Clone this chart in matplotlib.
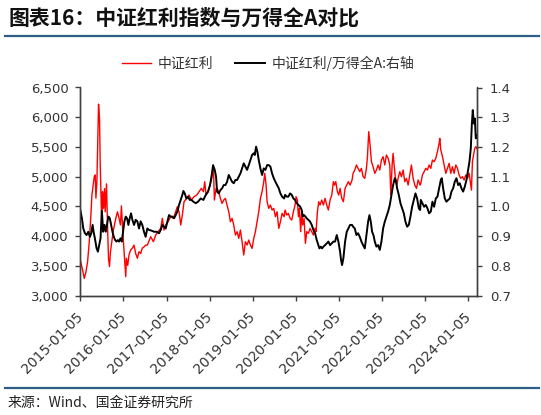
import matplotlib
matplotlib.use("Agg")
import matplotlib.pyplot as plt
from matplotlib.lines import Line2D
import numpy as np
import pandas as pd

plt.rcParams['font.family'] = ['Noto Sans CJK SC', 'DejaVu Sans']

# 中证红利 (left axis), decimal year -> index level
red_years = [
    2015.01, 2015.064, 2015.102, 2015.141, 2015.179, 2015.218, 2015.256, 2015.279, 2015.31, 2015.333,
    2015.356, 2015.372, 2015.395, 2015.418, 2015.433, 2015.456, 2015.472, 2015.495, 2015.51, 2015.525,
    2015.548, 2015.572, 2015.587, 2015.618, 2015.641, 2015.664, 2015.687, 2015.71, 2015.741, 2015.772,
    2015.802, 2015.833, 2015.872, 2015.91, 2015.941, 2015.964, 2015.995, 2016.025, 2016.064, 2016.079,
    2016.11, 2016.141, 2016.179, 2016.218, 2016.256, 2016.295, 2016.333, 2016.372, 2016.41, 2016.448,
    2016.487, 2016.525, 2016.564,
    2016.643, 2016.705, 2016.759, 2016.813, 2016.875, 2016.913, 2016.952, 2016.991, 2017.045, 2017.107,
    2017.169, 2017.223, 2017.261, 2017.3, 2017.339, 2017.377, 2017.416, 2017.478, 2017.532, 2017.586,
    2017.648, 2017.71, 2017.764, 2017.818, 2017.865, 2017.896, 2017.927, 2017.973, 2018.019, 2018.058,
    2018.081, 2018.097, 2018.12, 2018.159,
    2018.182, 2018.221, 2018.259, 2018.298, 2018.337, 2018.375, 2018.414, 2018.453, 2018.491, 2018.53,
    2018.569, 2018.607, 2018.646, 2018.685, 2018.723, 2018.762, 2018.801, 2018.839, 2018.878, 2018.917,
    2018.955, 2018.994, 2019.033, 2019.071, 2019.11, 2019.149, 2019.187, 2019.226, 2019.265, 2019.288,
    2019.319, 2019.342, 2019.381, 2019.419, 2019.458, 2019.497, 2019.535, 2019.574, 2019.613, 2019.651,
    2019.69, 2019.737,
    2019.759, 2019.798, 2019.836, 2019.875, 2019.914, 2019.952, 2019.991, 2020.014, 2020.045, 2020.068,
    2020.092, 2020.122, 2020.146, 2020.169, 2020.2, 2020.231, 2020.262, 2020.3, 2020.339, 2020.378,
    2020.416, 2020.455, 2020.478, 2020.509, 2020.54, 2020.571, 2020.61, 2020.648, 2020.687, 2020.726,
    2020.764, 2020.803, 2020.842, 2020.88, 2020.904, 2020.935, 2020.973, 2021.004, 2021.035, 2021.074,
    2021.112, 2021.151, 2021.19, 2021.228, 2021.267, 2021.313,
    2021.337, 2021.376, 2021.414, 2021.453, 2021.492, 2021.53, 2021.569, 2021.608, 2021.646, 2021.67,
    2021.7, 2021.731, 2021.762, 2021.801, 2021.84, 2021.878, 2021.917, 2021.956, 2021.994, 2022.033,
    2022.072, 2022.11, 2022.149, 2022.188, 2022.211, 2022.242, 2022.265, 2022.288, 2022.319, 2022.35,
    2022.381, 2022.42, 2022.458, 2022.497, 2022.536, 2022.575, 2022.613, 2022.652, 2022.69, 2022.729,
    2022.768, 2022.807, 2022.845, 2022.892,
    2022.907, 2022.945, 2022.984, 2023.023, 2023.061, 2023.1, 2023.139, 2023.177, 2023.216, 2023.255,
    2023.293, 2023.332, 2023.348, 2023.371, 2023.41, 2023.448, 2023.487, 2023.525, 2023.564, 2023.603,
    2023.641, 2023.68, 2023.719, 2023.757, 2023.796, 2023.835, 2023.873, 2023.912, 2023.951, 2023.989,
    2024.028, 2024.067, 2024.082, 2024.105, 2024.129, 2024.16, 2024.183, 2024.206,
]
red_vals = [
    3600, 3430, 3290, 3400, 3570, 3910, 4360, 4690, 4860, 5000,
    5030, 4640, 4920, 5700, 6220, 5980, 5200, 4580, 4130, 4750,
    4470, 4800, 4410, 4880, 4190, 3630, 3490, 3740, 3910, 4080,
    4190, 4300, 4410, 4300, 4190, 4510, 4080, 3740, 3320, 3630,
    3510, 3690, 3770, 3800, 3850, 3710, 3630, 3740, 3710, 3800,
    3820, 3850, 3850,
    3992, 3908, 4020, 4076, 4132, 4300, 4104, 4188, 4244, 4328,
    4300, 4412, 4496, 4412, 4188, 4356, 4580, 4636, 4692, 4608,
    4664, 4692, 4748, 4804, 4748, 4917, 4692, 4748, 4860, 4973,
    5085, 5170, 4608, 4804,
    4804, 4748, 4636, 4552, 4608, 4636, 4524, 4412, 4244, 4300,
    4188, 4020, 4076, 3964, 4104, 3908, 3684, 3908, 3852, 3936,
    3852, 3796, 3964, 4076, 4244, 4412, 4636, 4748, 4917, 5057,
    4860, 4580, 4468, 4524, 4440, 4468, 4328, 4412, 4132, 4244,
    4384, 4328,
    4440, 4356, 4384, 4300, 4272, 4412, 4524, 4664, 4608, 4328,
    4468, 4076, 4412, 4188, 4300, 3880, 4076, 4048, 4132, 4076,
    4020, 4132, 4076, 4412, 4580, 4524, 4608, 4524, 4636, 4524,
    4440, 4608, 4692, 4917, 4860, 4917, 4748, 4692, 4804, 4636,
    4580, 4804, 4860, 4917, 4860, 4945,
    5057, 5113, 5197, 5141, 5085, 5141, 5001, 4973, 5141, 5337,
    5758, 5534, 5253, 5169, 5057, 5113, 5197, 5113, 5281, 5337,
    5197, 5365, 5309, 5197, 4692, 5197, 5393, 5197, 4973, 4860,
    4973, 5085, 5001, 5113, 4917, 4973, 4860, 5029, 5197, 4973,
    4860, 4804, 4945, 4860,
    4888, 5029, 5085, 5141, 5113, 5197, 5141, 5281, 5253, 5309,
    5421, 5561, 5645, 5449, 5337, 5197, 5057, 5141, 5225, 5057,
    5169, 5057, 5197, 5141, 5029, 4973, 5001, 4945, 5029, 4973,
    5057, 4860, 4776, 5253, 5365, 5477, 5505, 5477,
]

# 中证红利/万得全A (right axis)
blk_years = [
    2015.01, 2015.048, 2015.079, 2015.118, 2015.156, 2015.195, 2015.233, 2015.264, 2015.295, 2015.318,
    2015.348, 2015.387, 2015.418, 2015.448, 2015.479, 2015.51, 2015.541, 2015.572, 2015.602, 2015.641,
    2015.664, 2015.695, 2015.725, 2015.756, 2015.787, 2015.818, 2015.848, 2015.879, 2015.91, 2015.941,
    2015.972, 2016.002, 2016.033, 2016.064, 2016.095, 2016.125, 2016.156, 2016.187, 2016.218, 2016.256,
    2016.295, 2016.333, 2016.372, 2016.41, 2016.448, 2016.487, 2016.525, 2016.564,
    2016.604, 2016.658, 2016.72, 2016.782, 2016.836, 2016.875, 2016.913, 2016.952, 2016.991, 2017.029,
    2017.068, 2017.107, 2017.145, 2017.184, 2017.223, 2017.261, 2017.3, 2017.339, 2017.377, 2017.401,
    2017.432, 2017.47, 2017.509, 2017.548, 2017.586, 2017.633, 2017.687, 2017.741, 2017.803, 2017.865,
    2017.919, 2017.973, 2018.019, 2018.058, 2018.089, 2018.128, 2018.159,
    2018.182, 2018.221, 2018.259, 2018.298, 2018.337, 2018.375, 2018.414, 2018.453, 2018.491, 2018.53,
    2018.569, 2018.607, 2018.646, 2018.685, 2018.723, 2018.762, 2018.801, 2018.839, 2018.878, 2018.917,
    2018.955, 2018.994, 2019.033, 2019.056, 2019.087, 2019.118, 2019.149, 2019.187, 2019.226, 2019.265,
    2019.303, 2019.342, 2019.381, 2019.419, 2019.458, 2019.497, 2019.535, 2019.574, 2019.613, 2019.651,
    2019.69, 2019.737,
    2019.759, 2019.798, 2019.836, 2019.875, 2019.914, 2019.952, 2019.991, 2020.03, 2020.068, 2020.107,
    2020.146, 2020.169, 2020.2, 2020.231, 2020.262, 2020.3, 2020.339, 2020.378, 2020.416, 2020.455,
    2020.494, 2020.532, 2020.556, 2020.587, 2020.618, 2020.648, 2020.687, 2020.726, 2020.764, 2020.803,
    2020.842, 2020.88, 2020.919, 2020.958, 2020.996, 2021.035, 2021.058, 2021.081, 2021.112, 2021.151,
    2021.19, 2021.228, 2021.267, 2021.313,
    2021.337, 2021.376, 2021.414, 2021.453, 2021.492, 2021.53, 2021.569, 2021.608, 2021.646, 2021.685,
    2021.716, 2021.747, 2021.778, 2021.809, 2021.84, 2021.878, 2021.917, 2021.956, 2021.994, 2022.033,
    2022.072, 2022.11, 2022.149, 2022.188, 2022.226, 2022.265, 2022.304, 2022.327, 2022.358, 2022.397,
    2022.435, 2022.474, 2022.513, 2022.551, 2022.59, 2022.629, 2022.667, 2022.706, 2022.745, 2022.783,
    2022.822, 2022.861, 2022.892,
    2022.907, 2022.945, 2022.984, 2023.023, 2023.061, 2023.1, 2023.139, 2023.177, 2023.216, 2023.255,
    2023.293, 2023.332, 2023.371, 2023.394, 2023.425, 2023.464, 2023.502, 2023.541, 2023.58, 2023.618,
    2023.657, 2023.695, 2023.734, 2023.773, 2023.811, 2023.85, 2023.889, 2023.928, 2023.966, 2024.005,
    2024.036, 2024.067, 2024.09, 2024.113, 2024.136, 2024.16, 2024.183, 2024.206,
]
blk_vals = [
    0.988, 0.96, 0.926, 0.91, 0.904, 0.915, 0.898, 0.91, 0.938, 0.915,
    0.893, 0.86, 0.848, 0.87, 0.893, 0.985, 0.915, 0.938, 0.915, 0.95,
    0.966, 0.96, 0.938, 0.915, 0.898, 0.887, 0.882, 0.887, 0.882, 0.893,
    0.882, 0.915, 0.95, 0.966, 0.96, 0.938, 0.96, 0.977, 0.955, 0.938,
    0.955, 0.95, 0.926, 0.95, 0.938, 0.915, 0.898, 0.926,
    0.921, 0.919, 0.915, 0.915, 0.91, 0.921, 0.938, 0.932, 0.926, 0.949,
    0.971, 0.966, 0.966, 0.96, 0.971, 0.983, 1.005, 1.022, 1.039, 1.052,
    1.044, 1.027, 1.033, 1.022, 1.022, 1.016, 1.011, 1.016, 1.027, 1.022,
    1.039, 1.05, 1.072, 1.106, 1.139, 1.123, 1.1,
    1.05, 1.044, 1.055, 1.061, 1.072, 1.072, 1.083, 1.106, 1.095, 1.083,
    1.078, 1.089, 1.089, 1.1, 1.111, 1.128, 1.145, 1.134, 1.123, 1.139,
    1.156, 1.173, 1.179, 1.173, 1.201, 1.184, 1.156, 1.128, 1.106, 1.128,
    1.123, 1.139, 1.139, 1.134, 1.111, 1.095, 1.083, 1.072, 1.061, 1.044,
    1.033, 1.027,
    1.039, 1.033, 1.033, 1.044, 1.039, 1.027, 1.022, 1.011, 1.005, 1.0,
    0.988, 0.966, 0.971, 0.966, 0.96, 0.955, 0.949, 0.938, 0.921, 0.91,
    0.887, 0.87, 0.859, 0.865, 0.859, 0.865, 0.87, 0.876, 0.882, 0.87,
    0.876, 0.882, 0.882, 0.904, 0.882, 0.848, 0.82, 0.803, 0.826, 0.882,
    0.915, 0.926, 0.938, 0.938,
    0.932, 0.926, 0.904, 0.91, 0.898, 0.882, 0.87, 0.859, 0.904, 0.949,
    0.971, 0.949, 0.915, 0.904, 0.882, 0.865, 0.87, 0.854, 0.882, 0.926,
    0.949, 0.966, 0.983, 1.005, 1.039, 1.072, 1.095, 1.089, 1.061, 1.039,
    1.011, 0.994, 0.977, 0.949, 0.932, 0.938, 0.966, 0.999, 1.022, 1.044,
    1.027, 0.994, 0.988,
    1.022, 1.011, 0.999, 1.005, 0.994, 0.977, 0.983, 1.016, 0.999, 1.027,
    1.033, 1.061, 1.089, 1.095, 1.061, 1.027, 1.016, 1.022, 1.027, 1.05,
    1.061, 1.083, 1.095, 1.072, 1.078, 1.061, 1.05, 1.067, 1.089, 1.123,
    1.151, 1.196, 1.274, 1.324, 1.279, 1.296, 1.229, 1.24,
]

tick_labels = ['2015-01-05', '2016-01-05', '2017-01-05', '2018-01-05', '2019-01-05',
               '2020-01-05', '2021-01-05', '2022-01-05', '2023-01-05', '2024-01-05']
left_ticks = [3000, 3500, 4000, 4500, 5000, 5500, 6000, 6500]
right_ticks = [0.7, 0.8, 0.9, 1.0, 1.1, 1.2, 1.3, 1.4]


def to_dates(years):
    base = pd.Timestamp('2015-01-05')
    days = (np.asarray(years) - 2015.01) * 365.25
    return base + pd.to_timedelta(days, unit='D')


W, H = 541, 415
fig = plt.figure(figsize=(W / 100, H / 100), dpi=100)
ax = fig.add_axes([80.3 / W, 1 - 295.7 / H, (476.7 - 80.3) / W, (295.7 - 87.5) / H])
ax2 = ax.twinx()

spine_c = '#404040'
text_c = '#333333'

l1, = ax.plot(to_dates(red_years), red_vals, color='#FF0000', lw=1.0)
l2, = ax2.plot(to_dates(blk_years), blk_vals, color='black', lw=1.4)

ax.set_xlim(pd.Timestamp('2015-01-05'), pd.Timestamp('2024-03-16'))
ax.set_ylim(3000, 6500)
ax2.set_ylim(0.7, 1.4)

ax.set_yticks(left_ticks)
ax.set_yticklabels([f'{v:,}' for v in left_ticks])
ax2.set_yticks(right_ticks)
ax2.set_yticklabels([f'{v:.1f}' for v in right_ticks])

ax.set_xticks(pd.to_datetime(tick_labels))
ax.set_xticklabels(tick_labels, rotation=45, ha='right', va='center', rotation_mode='anchor')

for a in (ax, ax2):
    a.spines['top'].set_visible(False)
    for s in ('left', 'right', 'bottom'):
        a.spines[s].set_color(spine_c)
        a.spines[s].set_linewidth(1.0)
    a.tick_params(axis='both', colors=spine_c, labelcolor=text_c, length=3.5, width=1.0,
                  labelsize=9.5, direction='out')
    for lab in a.get_xticklabels() + a.get_yticklabels():
        lab.set_family('DejaVu Sans')
ax.tick_params(axis='y', pad=5)
ax2.tick_params(axis='y', pad=6)
ax.tick_params(axis='x', pad=10, labelsize=10)

# header and footer
fig.text(8 / W, 1 - 18 / H, '图表16：中证红利指数与万得全A对比', fontsize=15, fontweight='bold',
         color='#111111', va='center', ha='left')
fig.add_artist(Line2D([5 / W, 539 / W], [1 - 35.8 / H] * 2, color='#2E5D87', lw=1.6))
fig.add_artist(Line2D([5 / W, 539 / W], [1 - 388 / H] * 2, color='#2E5D87', lw=1.6))
fig.text(8 / W, 1 - 403 / H, '来源：Wind、国金证券研究所', fontsize=10, color='#222222',
         va='center', ha='left')

fig.legend([l1, l2], ['中证红利', '中证红利/万得全A:右轴'], loc='center',
           bbox_to_anchor=(268 / W, 1 - 63 / H), ncol=2, frameon=False, fontsize=10,
           handlelength=2.1, handletextpad=0.5, columnspacing=1.6, labelcolor='#333333')

fig.savefig('out.png', dpi=100)
